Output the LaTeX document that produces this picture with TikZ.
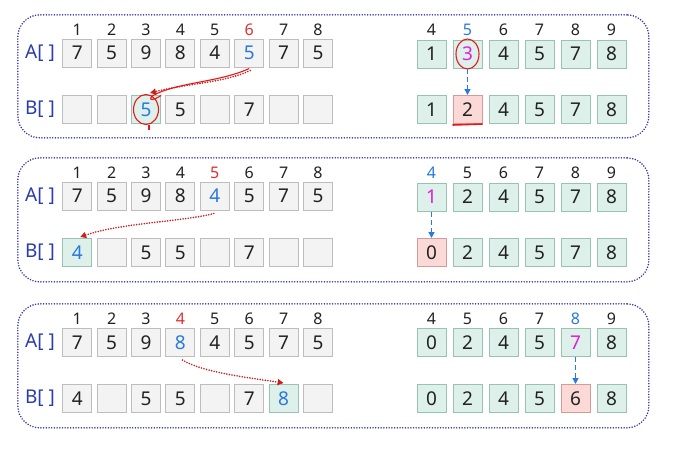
\documentclass[tikz,border=0pt]{standalone}
\usepackage{fontspec}
\setmainfont{Noto Sans}
\usetikzlibrary{arrows.meta}
\definecolor{framec}{HTML}{3535A8}
\definecolor{gfill}{HTML}{F3F3F3}
\definecolor{gdraw}{HTML}{BDBDBD}
\definecolor{grfill}{HTML}{DDF0E9}
\definecolor{grdraw}{HTML}{98C2B2}
\definecolor{rfill}{HTML}{FAD9D6}
\definecolor{rdraw}{HTML}{D89A96}
\definecolor{txt}{HTML}{222222}
\definecolor{tblue}{HTML}{2A78E0}
\definecolor{tmag}{HTML}{E020D8}
\definecolor{tred}{HTML}{E03030}
\definecolor{lblue}{HTML}{2A3CB0}
\definecolor{arred}{HTML}{C81E1E}
\definecolor{penred}{HTML}{E81818}
\begin{document}
\begin{tikzpicture}[x=1pt,y=-1pt,
  cellbase/.style={minimum width=29pt,minimum height=28pt,inner sep=0pt,line width=1pt,
    font=\fontsize{19}{19}\selectfont,text=txt},
  gcell/.style={cellbase,draw=gdraw,fill=gfill},
  gcellb/.style={gcell,text=tblue},
  grcell/.style={cellbase,draw=grdraw,fill=grfill},
  grcellb/.style={grcell,text=tblue},
  grcellm/.style={grcell,text=tmag},
  rcell/.style={cellbase,draw=rdraw,fill=rfill},
  idx/.style={font=\fontsize{16}{16}\selectfont,text=txt,inner sep=0pt},
  idxr/.style={idx,text=tred},
  idxb/.style={idx,text=tblue},
  lbl/.style={font=\fontsize{19}{19}\selectfont,text=lblue,inner sep=0pt},
  frame/.style={draw=framec,line width=1.7pt,line cap=round,dash pattern=on 0pt off 2.7pt,rounded corners=22pt},
  movearrow/.style={draw=arred,line width=1.8pt,line cap=round,dash pattern=on 0pt off 2.6pt,-{Triangle[length=6pt,width=6pt]}},
  downarrow/.style={draw=tblue,line width=1.6pt,dash pattern=on 5pt off 3pt,-{Triangle[length=6pt,width=6pt]}},
  pen/.style={draw=penred,line width=1.1pt}
]
\useasboundingbox (0,0) rectangle (683,453);

% ---------- Panel 1 ----------
\node[frame,minimum width=631pt,minimum height=123pt,anchor=north west] (f1) at (17,14) {};
\node[lbl] (p1la) at (40,53) {A[ ]};
\node[lbl] (p1lb) at (40,109.5) {B[ ]};
\foreach \n/\s [count=\i] in {1/idx,2/idx,3/idx,4/idx,5/idx,6/idxr,7/idx,8/idx}
  \node[\s] (p1i\i) at ({77.2+34.4*(\i-1)},30) {\n};
\foreach \v/\s [count=\i] in {7/gcell,5/gcell,9/gcell,8/gcell,4/gcell,5/gcellb,7/gcell,5/gcell}
  \node[\s] (p1a\i) at ({77.2+34.4*(\i-1)},53) {\v};
\foreach \v/\s [count=\i] in {{}/gcell,{}/gcell,5/grcellb,5/gcell,{}/gcell,7/gcell,{}/gcell,{}/gcell}
  \node[\s] (p1b\i) at ({77.2+34.4*(\i-1)},109.5) {\v};
\foreach \n/\s [count=\i] in {4/idx,5/idxb,6/idx,7/idx,8/idx,9/idx}
  \node[\s] (p1j\i) at ({431.5+36*(\i-1)},30) {\n};
\foreach \v/\s [count=\i] in {1/grcell,3/grcellm,4/grcell,5/grcell,7/grcell,8/grcell}
  \node[\s] (p1r\i) at ({431.5+36*(\i-1)},54) {\v};
\foreach \v/\s [count=\i] in {1/grcell,2/rcell,4/grcell,5/grcell,7/grcell,8/grcell}
  \node[\s] (p1s\i) at ({431.5+36*(\i-1)},109.5) {\v};
\draw[movearrow] ([xshift=1pt,yshift=-3pt]p1a6.south) .. controls +(-25,12) and +(40,-10) .. ([xshift=4pt,yshift=2pt]p1b3.north);
\draw[pen] ([yshift=-1pt]p1a6.south) .. controls +(-30,14) and +(25,-14) .. ([xshift=6pt,yshift=-1pt]p1b3.north)
  .. controls +(-6,8) and +(1,1) .. (p1b3.north east);
\draw[pen] (p1b3) ellipse [x radius=12.5pt,y radius=15pt];
\draw[pen] ([xshift=3pt,yshift=-15pt]p1b3.center) -- ([xshift=3pt,yshift=-20pt]p1b3.center);
\draw[pen] (p1r2) ellipse [x radius=11.5pt,y radius=15pt];
\draw[downarrow] (p1r2.south) -- (p1s2.north);
\coordinate (p1u1) at ([yshift=-1pt]p1s2.south west);
\coordinate (p1u2) at ([yshift=0pt]p1s2.south east);
\draw[penred,line width=1.6pt] (p1u1) -- (p1u2);

% ---------- Panel 2 ----------
\node[frame,minimum width=631pt,minimum height=124pt,anchor=north west] (f2) at (17,157) {};
\node[lbl] (p2la) at (40,196) {A[ ]};
\node[lbl] (p2lb) at (40,252.5) {B[ ]};
\foreach \n/\s [count=\i] in {1/idx,2/idx,3/idx,4/idx,5/idxr,6/idx,7/idx,8/idx}
  \node[\s] (p2i\i) at ({77.2+34.4*(\i-1)},173) {\n};
\foreach \v/\s [count=\i] in {7/gcell,5/gcell,9/gcell,8/gcell,4/gcellb,5/gcell,7/gcell,5/gcell}
  \node[\s] (p2a\i) at ({77.2+34.4*(\i-1)},196) {\v};
\foreach \v/\s [count=\i] in {4/grcellb,{}/gcell,5/gcell,5/gcell,{}/gcell,7/gcell,{}/gcell,{}/gcell}
  \node[\s] (p2b\i) at ({77.2+34.4*(\i-1)},252.5) {\v};
\foreach \n/\s [count=\i] in {4/idxb,5/idx,6/idx,7/idx,8/idx,9/idx}
  \node[\s] (p2j\i) at ({431.5+36*(\i-1)},173) {\n};
\foreach \v/\s [count=\i] in {1/grcellm,2/grcell,4/grcell,5/grcell,7/grcell,8/grcell}
  \node[\s] (p2r\i) at ({431.5+36*(\i-1)},197) {\v};
\foreach \v/\s [count=\i] in {0/rcell,2/grcell,4/grcell,5/grcell,7/grcell,8/grcell}
  \node[\s] (p2s\i) at ({431.5+36*(\i-1)},252.5) {\v};
\draw[movearrow] ([xshift=-1pt,yshift=-3pt]p2a5.south) .. controls +(-30,8) and +(40,-14) .. ([xshift=3pt,yshift=1pt]p2b1.north);
\draw[downarrow] (p2r1.south) -- (p2s1.north);

% ---------- Panel 3 ----------
\node[frame,minimum width=631pt,minimum height=124pt,anchor=north west] (f3) at (17,303) {};
\node[lbl] (p3la) at (40,342.5) {A[ ]};
\node[lbl] (p3lb) at (40,398.5) {B[ ]};
\foreach \n/\s [count=\i] in {1/idx,2/idx,3/idx,4/idxr,5/idx,6/idx,7/idx,8/idx}
  \node[\s] (p3i\i) at ({77.2+34.4*(\i-1)},319) {\n};
\foreach \v/\s [count=\i] in {7/gcell,5/gcell,9/gcell,8/gcellb,4/gcell,5/gcell,7/gcell,5/gcell}
  \node[\s] (p3a\i) at ({77.2+34.4*(\i-1)},342.5) {\v};
\foreach \v/\s [count=\i] in {4/gcell,{}/gcell,5/gcell,5/gcell,{}/gcell,7/gcell,8/grcellb,{}/gcell}
  \node[\s] (p3b\i) at ({77.2+34.4*(\i-1)},398.5) {\v};
\foreach \n/\s [count=\i] in {4/idx,5/idx,6/idx,7/idx,8/idxb,9/idx}
  \node[\s] (p3j\i) at ({431.5+36*(\i-1)},319) {\n};
\foreach \v/\s [count=\i] in {0/grcell,2/grcell,4/grcell,5/grcell,7/grcellm,8/grcell}
  \node[\s] (p3r\i) at ({431.5+36*(\i-1)},342.5) {\v};
\foreach \v/\s [count=\i] in {0/grcell,2/grcell,4/grcell,5/grcell,6/rcell,8/grcell}
  \node[\s] (p3s\i) at ({431.5+36*(\i-1)},398.5) {\v};
\draw[movearrow] ([xshift=2pt,yshift=-3pt]p3a4.south) .. controls +(20,12) and +(-40,-6) .. ([yshift=1pt]p3b7.north);
\draw[downarrow] (p3r5.south) -- (p3s5.north);
\end{tikzpicture}
\end{document}
